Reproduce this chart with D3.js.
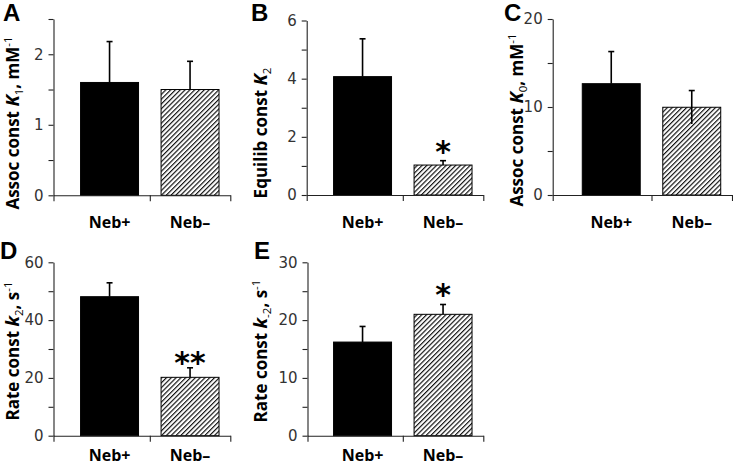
<!DOCTYPE html>
<html><head><meta charset="utf-8">
<script src="https://cdn.jsdelivr.net/npm/d3@7"></script>
<style>body{margin:0;background:#fff}svg{display:block}</style>
</head><body>
<script>
// ---- data ----
const categories = ["Neb+", "Neb\u2013"];
const panelLetters = ["A", "B", "C", "D", "E"];
const meanA = [1.6, 1.5],   errA = [0.58, 0.40], sigA = ["", ""];
const meanB = [4.07, 1.03], errB = [1.30, 0.15], sigB = ["", "*"];
const meanC = [12.65, 9.97], errC = [3.65, 1.90], sigC = ["", ""];
const meanD = [48.1, 20.2], errD = [4.8, 3.3],   sigD = ["", "**"];
const meanE = [16.2, 21.0], errE = [2.7, 1.7],   sigE = ["", "*"];
const lowerWhiskerC = [false, true];
const yMaxes = [2.5, 6, 20, 60, 30];
const yMinorSteps = [0.5, 1, 5, 10, 5];
const yLabelSteps = [1, 2, 10, 20, 10];
const titleA = [["Assoc const ", ""], ["K", "i"], ["1", "sub"], [", mM", ""], ["-1", "sup"]];
const titleB = [["Equilib const ", ""], ["K", "i"], ["2", "sub"]];
const titleC = [["Assoc const ", ""], ["K", "i"], ["0", "sub"], [", mM", ""], ["-1", "sup"]];
const titleD = [["Rate const ", ""], ["k", "i"], ["2", "sub"], [", s", ""], ["-1", "sup"]];
const titleE = [["Rate const ", ""], ["k", "i"], ["-2", "sub"], [", s", ""], ["-1", "sup"]];

// ---- layout ----
const layout = [
  {axisX: 53.5, yTop: 19,   y0: 195.3, band0: 69.3,  titleX: 19,  titleY: 123, lx: 3,   ly: 21, catY: 228},
  {axisX: 306.7, yTop: 20.5, y0: 195,  band0: 322.3, titleX: 267, titleY: 133, lx: 251, ly: 21, catY: 228},
  {axisX: 552.7, yTop: 19,   y0: 195,  band0: 571,   titleX: 523, titleY: 120, lx: 504, ly: 21, catY: 228},
  {axisX: 53.5, yTop: 262.3, y0: 435.7, band0: 69.3, titleX: 19,  titleY: 351, lx: 0,   ly: 259, catY: 461},
  {axisX: 307.5, yTop: 262.3, y0: 435.7, band0: 322.3, titleX: 267, titleY: 351, lx: 254, ly: 259, catY: 461}
];
const STEP = 80.5, BARFRAC = 0.72;
const TICKFONT = "'DejaVu Sans', Verdana, sans-serif";
const LABFONT = "'Open Sans', 'DejaVu Sans', sans-serif";

const panels = [
  {mean: meanA, err: errA, sig: sigA, low: [false, false], title: titleA},
  {mean: meanB, err: errB, sig: sigB, low: [false, false], title: titleB},
  {mean: meanC, err: errC, sig: sigC, low: lowerWhiskerC, title: titleC},
  {mean: meanD, err: errD, sig: sigD, low: [false, false], title: titleD},
  {mean: meanE, err: errE, sig: sigE, low: [false, false], title: titleE}
];

const svg = d3.select("body").append("svg").attr("width", 733).attr("height", 466);

const defs = svg.append("defs");
const pat = defs.append("pattern").attr("id", "hatch").attr("patternUnits", "userSpaceOnUse")
  .attr("width", 3.4).attr("height", 3.4).attr("patternTransform", "rotate(45)");
pat.append("rect").attr("width", 3.4).attr("height", 3.4).attr("fill", "#fff");
pat.append("line").attr("x1", 0.6).attr("y1", 0).attr("x2", 0.6).attr("y2", 3.4)
  .attr("stroke", "#000").attr("stroke-width", 1.1);

panels.forEach((p, i) => {
  const L = layout[i];
  const g = svg.append("g");
  const y = d3.scaleLinear().domain([0, yMaxes[i]]).range([L.y0, L.yTop]);
  const x = d3.scaleBand().domain(categories).range([L.band0, L.band0 + 2 * STEP]).padding(0);
  const bw = x.bandwidth() * BARFRAC;
  const xEnd = L.band0 + 2 * STEP;

  // y axis
  const minorTicks = d3.range(0, yMaxes[i] + 1e-9, yMinorSteps[i]);
  const yAx = d3.axisLeft(y).tickValues(minorTicks).tickSize(5).tickSizeOuter(0)
    .tickFormat(v => (Math.abs(v / yLabelSteps[i] - Math.round(v / yLabelSteps[i])) < 1e-6) ? d3.format("~g")(v) : "");
  const ya = g.append("g").attr("transform", `translate(${L.axisX},0)`).call(yAx);
  ya.select(".domain").attr("stroke", "#222").attr("stroke-width", 1.1);
  ya.selectAll(".tick line").attr("stroke", "#222").attr("stroke-width", 1.1);
  ya.selectAll(".tick text").attr("font-size", 15).attr("fill", "#333").attr("x", -10)
    .style("font-family", TICKFONT);

  // bars
  g.selectAll("rect.bar").data(p.mean).enter().append("rect")
    .attr("x", (d, j) => x(categories[j]) + (x.bandwidth() - bw) / 2)
    .attr("y", d => y(d)).attr("width", bw).attr("height", d => L.y0 - y(d))
    .attr("fill", (d, j) => j === 0 ? "#000" : "url(#hatch)")
    .attr("stroke", "#000").attr("stroke-width", 1);

  // error bars
  p.mean.forEach((m, j) => {
    const cx = x(categories[j]) + x.bandwidth() / 2;
    const bottom = p.low[j] ? y(m - p.err[j]) : y(m);
    g.append("line").attr("x1", cx).attr("x2", cx).attr("y1", bottom).attr("y2", y(m + p.err[j]))
      .attr("stroke", "#000").attr("stroke-width", 1.6);
    g.append("line").attr("x1", cx - 3).attr("x2", cx + 3).attr("y1", y(m + p.err[j])).attr("y2", y(m + p.err[j]))
      .attr("stroke", "#000").attr("stroke-width", 1.6);
    if (p.sig[j]) {
      g.append("text").attr("x", cx).attr("y", y(m + p.err[j]) + (p.sig[j].length > 1 ? 5 : 1))
        .attr("text-anchor", "middle").attr("font-size", 30).attr("font-weight", "bold")
        .style("font-family", TICKFONT)
        .text(p.sig[j]);
    }
  });

  // x axis (ticks at band boundaries)
  const xl = d3.scaleLinear().domain([L.axisX, xEnd]).range([L.axisX, xEnd]);
  const xAx = d3.axisBottom(xl).tickValues([L.axisX, L.band0 + STEP, xEnd]).tickSize(6).tickSizeOuter(0).tickFormat("");
  const xa = g.append("g").attr("transform", `translate(0,${L.y0})`).call(xAx);
  xa.select(".domain").attr("stroke", "#222").attr("stroke-width", 1.1);
  xa.selectAll(".tick line").attr("stroke", "#222").attr("stroke-width", 1.1);

  // category labels
  g.selectAll("text.cat").data(categories).enter().append("text")
    .attr("x", d => x(d) + x.bandwidth() / 2).attr("y", L.catY)
    .attr("text-anchor", "middle").attr("font-size", 16).attr("font-weight", "bold")
    .style("font-family", LABFONT)
    .text(d => d);

  // title
  const t = g.append("text").attr("transform", `translate(${L.titleX},${L.titleY}) rotate(-90)`)
    .attr("text-anchor", "middle").attr("font-size", 17).attr("font-weight", "bold")
    .style("font-family", LABFONT);
  let shift = 0;
  p.title.forEach(([s, st]) => {
    const ts = t.append("tspan").text(s);
    let target = 0;
    if (st === "i") ts.attr("font-style", "italic").attr("font-size", 18.5);
    if (st === "sub") { ts.attr("font-size", 11.5).attr("font-weight", "normal"); target = 4; }
    if (st === "sup") { ts.attr("font-size", 11.5).attr("font-weight", "normal"); target = -7; }
    if (target !== shift) { ts.attr("dy", target - shift); shift = target; }
  });

  // panel letter
  svg.append("text").attr("x", L.lx).attr("y", L.ly).attr("font-size", 24).attr("font-weight", "bold")
    .style("font-family", "'Liberation Sans', Arial, sans-serif")
    .text(panelLetters[i]);
});
</script>
</body></html>
